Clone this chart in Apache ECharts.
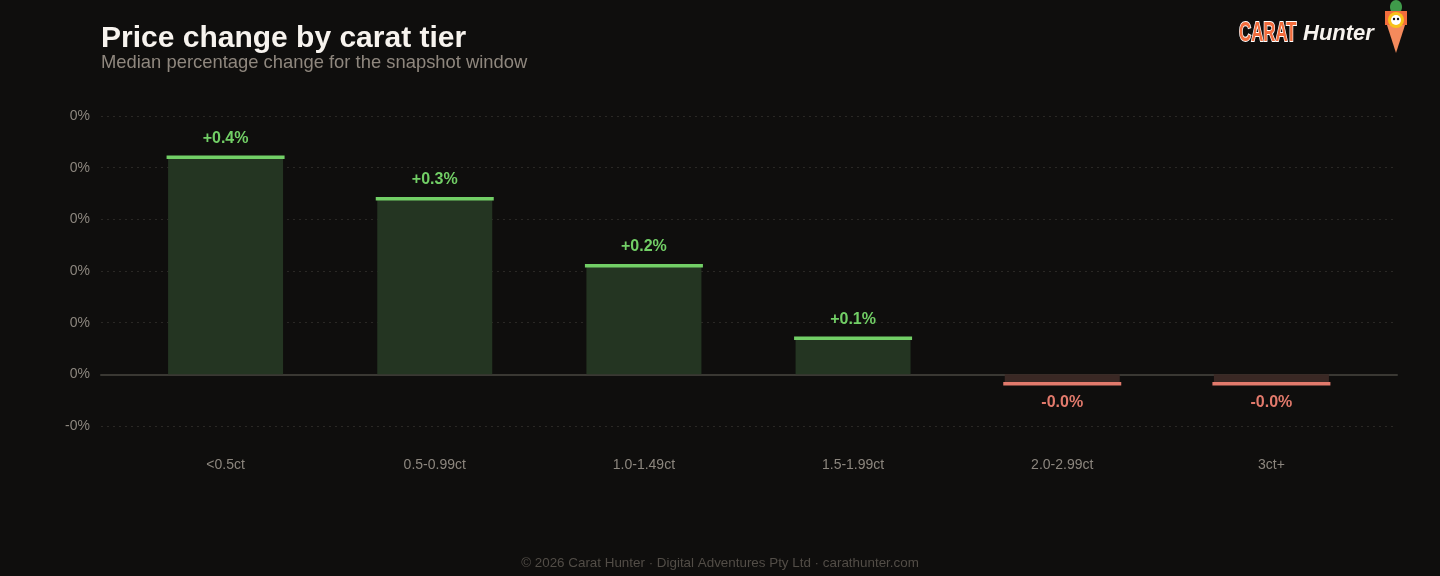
<!DOCTYPE html>
<html>
<head>
<meta charset="utf-8">
<script src="https://cdn.jsdelivr.net/npm/echarts@6/dist/echarts.min.js"></script>
<style>
html, body { margin: 0; padding: 0; background: #0f0e0d; }
#chart { width: 1440px; height: 576px; }
</style>
</head>
<body>
<div id="chart"></div>
<script>
// carat tiers and median % change
var tiers = ['<0.5ct', '0.5-0.99ct', '1.0-1.49ct', '1.5-1.99ct', '2.0-2.99ct', '3ct+'];
var change = [0.42, 0.34, 0.21, 0.07, -0.018, -0.018];

var colors = {
  bg: '#0f0e0d',
  upFill: '#243522',
  upCap: '#72cf66',
  downFill: '#3a2824',
  downCap: '#e27a6c',
  grid: '#2a2825',
  axis: '#3a3833',
  label: '#8c867e'
};

function fmtAxis(v) {
  return (v < 0 ? '-' : '') + Math.floor(Math.abs(v)) + '%';
}
function fmtVal(v) {
  return (v >= 0 ? '+' : '') + v.toFixed(1) + '%';
}

var barData = change.map(function (v) {
  return {
    value: v,
    itemStyle: { color: v >= 0 ? colors.upFill : colors.downFill }
  };
});
var capData = change.map(function (v) {
  return {
    value: v,
    itemStyle: { color: v >= 0 ? colors.upCap : colors.downCap, opacity: 1 },
    label: {
      position: v >= 0 ? 'top' : 'bottom',
      color: v >= 0 ? colors.upCap : colors.downCap
    }
  };
});

var chart = echarts.init(document.getElementById('chart'));
chart.setOption({
  backgroundColor: colors.bg,
  animation: false,
  title: {
    text: 'Price change by carat tier',
    subtext: 'Median percentage change for the snapshot window',
    left: 96, top: 19,
    itemGap: 0,
    textStyle: { color: '#f7f3ee', fontSize: 30, fontWeight: 'bold', fontFamily: 'Liberation Sans' },
    subtextStyle: { color: '#8f877e', fontSize: 18.4, fontFamily: 'Liberation Sans' }
  },
  grid: [
    { left: 101, right: 43, top: 116, bottom: 150 },   // gridlines + y labels
    { left: 121, right: 64, top: 116, bottom: 150 }    // bars
  ],
  xAxis: [
    {
      gridIndex: 0, type: 'value', min: 0, max: 1,
      axisLine: { show: true, onZero: true, lineStyle: { color: colors.axis, width: 2 } },
      axisTick: { show: false }, axisLabel: { show: false }, splitLine: { show: false }
    },
    {
      gridIndex: 1, type: 'category', data: tiers,
      axisLine: { show: false }, axisTick: { show: false },
      axisLabel: { color: colors.label, fontSize: 14, margin: 32, fontFamily: 'Liberation Sans' }
    }
  ],
  yAxis: [
    {
      gridIndex: 0, type: 'value', min: -0.1, max: 0.5, interval: 0.1,
      axisLine: { show: false }, axisTick: { show: false },
      axisLabel: { color: colors.label, fontSize: 14, margin: 11, formatter: fmtAxis, fontFamily: 'Liberation Sans' },
      splitLine: { lineStyle: { color: colors.grid, type: [2, 4], width: 1 } }
    },
    {
      gridIndex: 1, type: 'value', min: -0.1, max: 0.5, interval: 0.1,
      show: false, splitLine: { show: false }
    }
  ],
  series: [
    {
      type: 'bar', xAxisIndex: 1, yAxisIndex: 1,
      barWidth: 115, data: barData, z: 2
    },
    {
      type: 'scatter', xAxisIndex: 1, yAxisIndex: 1,
      symbol: 'rect', symbolSize: [118, 3.5],
      data: capData, z: 3,
      label: {
        show: true, distance: 9, fontSize: 16, fontWeight: 'bold',
        fontFamily: 'Liberation Sans',
        formatter: function (p) { return fmtVal(p.value); }
      }
    }
  ],
  graphic: [
    {
      type: 'text', left: 'center', top: 557,
      style: {
        text: '© 2026 Carat Hunter · Digital Adventures Pty Ltd · carathunter.com',
        fill: '#524d47', fontSize: 13.4, fontFamily: 'Liberation Sans'
      }
    },
    // logo
    {
      type: 'text', x: 1239, y: 19, scaleX: 0.6,
      style: {
        text: 'CARAT', fill: '#f26d3d', stroke: '#ffffff', lineWidth: 2,
        fontSize: 28, fontWeight: 'bold', fontFamily: 'Liberation Sans'
      }
    },
    {
      type: 'text', left: 1303, top: 23,
      style: {
        text: 'Hunter', fill: '#f7f3ee', fontSize: 22, fontWeight: 'bold',
        fontStyle: 'italic', fontFamily: 'Liberation Sans'
      }
    },
    {
      type: 'group', left: 1385, top: 0,
      children: [
        { type: 'polygon', shape: { points: [[3, 18], [23, 18], [13, 49]] }, style: { fill: '#f58a5c' } },
        { type: 'ellipse', shape: { cx: 13, cy: 3, rx: 6, ry: 7 }, style: { fill: '#3f9a4a' } },
        { type: 'rect', shape: { x: 2, y: 7, width: 22, height: 14 }, style: { fill: '#f26d3d' } },
        { type: 'circle', shape: { cx: 13, cy: 16, r: 8 }, style: { fill: '#f7c21a' } },
        { type: 'circle', shape: { cx: 13, cy: 16, r: 5 }, style: { fill: '#ffffff' } },
        { type: 'circle', shape: { cx: 11, cy: 15, r: 1.2 }, style: { fill: '#111' } },
        { type: 'circle', shape: { cx: 15, cy: 15, r: 1.2 }, style: { fill: '#111' } }
      ]
    }
  ]
});
</script>
</body>
</html>
